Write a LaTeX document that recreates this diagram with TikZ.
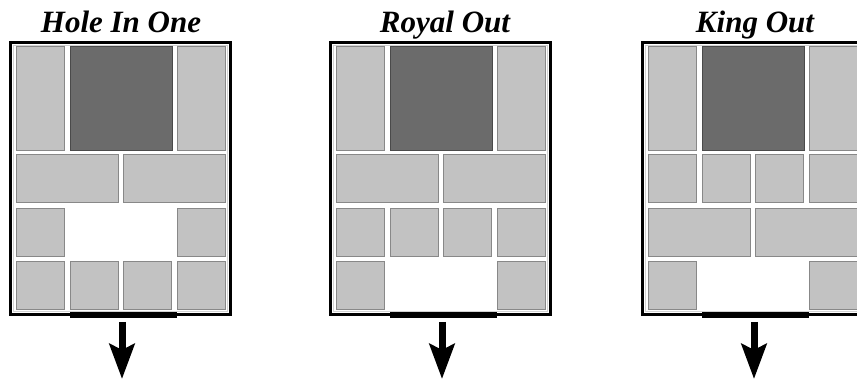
\documentclass[tikz,border=0pt]{standalone}
\usepackage{fontspec}
\setmainfont{Liberation Serif}
\usetikzlibrary{arrows.meta}
\definecolor{lgfill}{HTML}{C2C2C2}
\definecolor{lgborder}{HTML}{888888}
\definecolor{dkfill}{HTML}{6B6B6B}
\definecolor{dkborder}{HTML}{4A4A4A}
\definecolor{frinner}{HTML}{D2D2D2}
\tikzset{
  blk/.style={line width=1pt, inner sep=0pt, outer sep=0pt, anchor=north west},
  lb/.style={blk, draw=lgborder, fill=lgfill},
  dk/.style={blk, draw=dkborder, fill=dkfill, minimum width=102pt, minimum height=104pt},
  tall/.style={lb, minimum width=48pt, minimum height=104pt},
  half/.style={lb, minimum width=102.5pt, minimum height=48pt},
  sml/.style={lb, minimum width=48pt, minimum height=48pt},
  frm/.style={draw=black, line width=3pt, inner sep=0pt, outer sep=0pt, anchor=north west, minimum width=220pt, minimum height=272pt},
  frin/.style={draw=frinner, line width=1pt, inner sep=0pt, outer sep=0pt, anchor=north west, minimum width=214pt, minimum height=266pt},
  bar/.style={fill=black, inner sep=0pt, outer sep=0pt, minimum width=107pt, minimum height=6pt},
  ttl/.style={anchor=base, font=\fontsize{31}{31}\selectfont\bfseries\itshape, inner sep=0pt},
  outarrow/.style={line width=7pt, shorten <=4pt, -{Stealth[length=35pt, width=25pt, inset=6pt]}}
}
\begin{document}
\begin{tikzpicture}[x=1pt, y=-1pt]
\useasboundingbox (0,0) rectangle (857,379);
\clip (0,0) rectangle (857,379);
\fill[white] (0,0) rectangle (857,379);

% ---------- Panel 1: Hole In One ----------
\begin{scope}
  \node[ttl] (at) at (121,33) {Hole In One};
  \node[frm] (af) at (10.5,42.5) {};
  \node[frin] (afi) at (13.5,45.5) {};
  \node[tall] (a11) at (16,47) {};
  \node[dk]   (a12) at (70,47) {};
  \node[tall] (a13) at (177,47) {};
  \node[half] (a21) at (16,155) {};
  \node[half] (a22) at (123,155) {};
  \node[sml]  (a31) at (16,209) {};
  \node[sml]  (a34) at (177,209) {};
  \node[sml]  (a41) at (16,262) {};
  \node[sml]  (a42) at (70,262) {};
  \node[sml]  (a43) at (123,262) {};
  \node[sml]  (a44) at (177,262) {};
  \node[bar]  (ab) at (123.5,315) {};
  \coordinate (ae) at (122,379);
  \draw[outarrow] (ab.south -| ae) -- (ae);
\end{scope}

% ---------- Panel 2: Royal Out ----------
\begin{scope}[shift={(320,0)}]
  \node[ttl] (bt) at (125,33) {Royal Out};
  \node[frm] (bf) at (10.5,42.5) {};
  \node[frin] (bfi) at (13.5,45.5) {};
  \node[tall] (b11) at (16,47) {};
  \node[dk]   (b12) at (70,47) {};
  \node[tall] (b13) at (177,47) {};
  \node[half] (b21) at (16,155) {};
  \node[half] (b22) at (123,155) {};
  \node[sml]  (b31) at (16,209) {};
  \node[sml]  (b32) at (70,209) {};
  \node[sml]  (b33) at (123,209) {};
  \node[sml]  (b34) at (177,209) {};
  \node[sml]  (b41) at (16,262) {};
  \node[sml]  (b44) at (177,262) {};
  \node[bar]  (bb) at (123.5,315) {};
  \coordinate (be) at (122,379);
  \draw[outarrow] (bb.south -| be) -- (be);
\end{scope}

% ---------- Panel 3: King Out ----------
\begin{scope}[shift={(632,0)}]
  \node[ttl] (ct) at (123,33) {King Out};
  \node[frm] (cf) at (10.5,42.5) {};
  \node[frin] (cfi) at (13.5,45.5) {};
  \node[tall] (c11) at (16,47) {};
  \node[dk]   (c12) at (70,47) {};
  \node[tall] (c13) at (177,47) {};
  \node[sml]  (c21) at (16,155) {};
  \node[sml]  (c22) at (70,155) {};
  \node[sml]  (c23) at (123,155) {};
  \node[sml]  (c24) at (177,155) {};
  \node[half] (c31) at (16,209) {};
  \node[half] (c32) at (123,209) {};
  \node[sml]  (c41) at (16,262) {};
  \node[sml]  (c44) at (177,262) {};
  \node[bar]  (cb) at (123.5,315) {};
  \coordinate (ce) at (122,379);
  \draw[outarrow] (cb.south -| ce) -- (ce);
\end{scope}
\end{tikzpicture}
\end{document}
